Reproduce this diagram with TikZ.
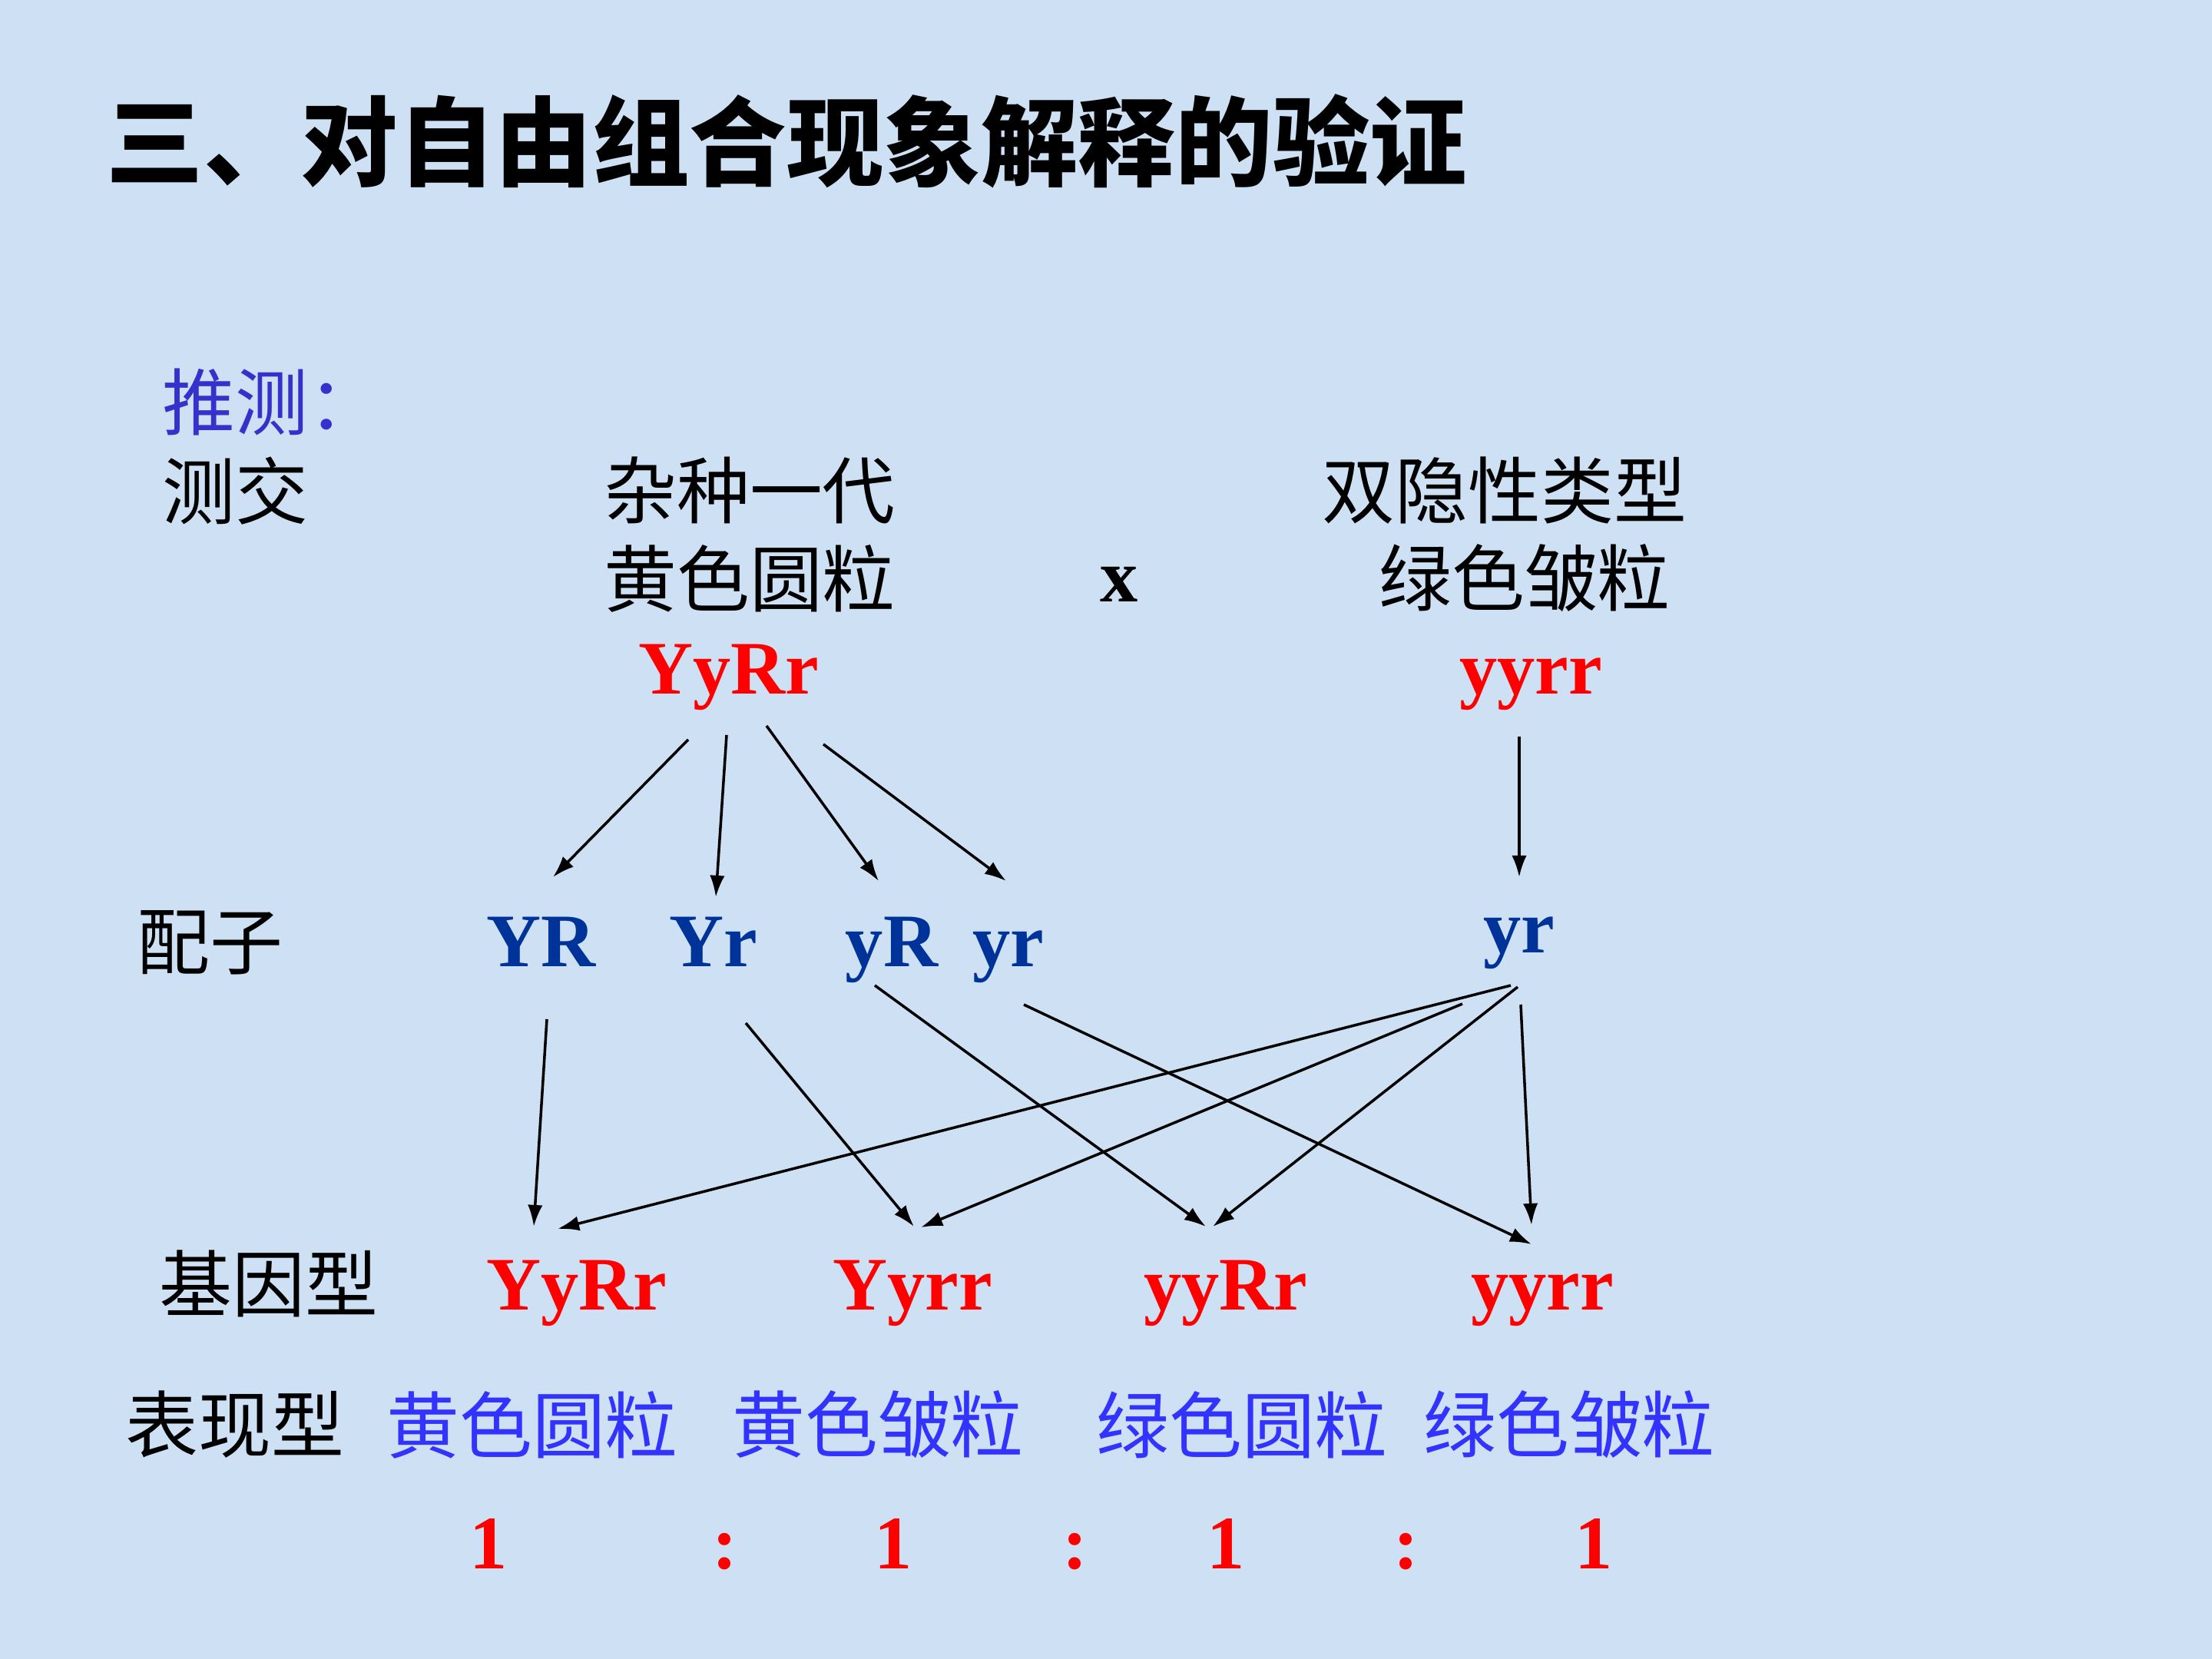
\documentclass[tikz,border=0pt]{standalone}
\usepackage{fontspec}
\setmainfont{Liberation Serif}
\newfontfamily\cjk{Noto Sans CJK SC}
\usetikzlibrary{arrows.meta,positioning,calc}
\definecolor{bgBlue}{RGB}{205,224,244}
\definecolor{geneRed}{RGB}{255,0,0}
\definecolor{gameteBlue}{RGB}{0,51,153}
\definecolor{phenoBlue}{RGB}{51,51,255}
\definecolor{guessBlue}{RGB}{51,51,204}

\begin{document}
\begin{tikzpicture}[
    lbl/.style={inner sep=0pt, font=\cjk\fontsize{27}{30}\selectfont},
    pheno/.style={lbl, text=phenoBlue},
    gene/.style={inner sep=0pt, anchor=base, text=geneRed,
                 font=\bfseries\fontsize{28}{30}\selectfont},
    gam/.style={gene, text=gameteBlue},
    arr/.style={-{Latex[length=8pt,width=5.5pt]}, line width=1pt}
  ]
  \fill[bgBlue] (0,0) rectangle (28.8,-21.6);
  \useasboundingbox (0,0) rectangle (28.8,-21.6);

  \node[anchor=west, inner sep=0pt, font=\cjk\bfseries\fontsize{36}{40}\selectfont]
       (title) at (1.38,-1.84) {三、对自由组合现象解释的验证};

  \node[lbl, anchor=west, text=guessBlue] (guess) at (2.11,-5.23) {推测：};
  \node[lbl, anchor=west] (cross) at (2.11,-6.39) {测交};
  \node[lbl] (hyb) at (9.76,-6.39) {杂种一代};
  \node[lbl] (hybph) at (9.76,-7.53) {黄色圆粒};
  \node[gene, text=black] (times) at (14.57,-7.84) {x};
  \node[lbl] (rec) at (19.59,-6.39) {双隐性类型};
  \node[lbl] (recph) at (19.85,-7.53) {绿色皱粒};
  \node[gene] (p1) at (9.49,-9.04) {YyRr};
  \node[gene] (p2) at (19.93,-9.04) {yyrr};

  \node[lbl] (gamlbl) at (2.73,-12.27) {配子};
  \node[gam] (g1) at (7.05,-12.58) {YR};
  \node[gam] (g2) at (9.29,-12.58) {Yr};
  \node[gam] (g3) at (11.61,-12.58) {yR};
  \node[gam] (g4) at (13.13,-12.58) {yr};
  \node[gam] (g5) at (19.78,-12.40) {yr};

  \node[lbl] (genlbl) at (3.50,-16.71) {基因型};
  \node[gene] (o1) at (7.51,-17.05) {YyRr};
  \node[gene] (o2) at (11.88,-17.05) {Yyrr};
  \node[gene] (o3) at (15.96,-17.05) {yyRr};
  \node[gene] (o4) at (20.08,-17.05) {yyrr};

  \node[lbl] (phlbl) at (3.06,-18.55) {表现型};
  \node[pheno] (f1) at (6.93,-18.55) {黄色圆粒};
  \node[pheno] (f2) at (11.43,-18.55) {黄色皱粒};
  \node[pheno] (f3) at (16.17,-18.55) {绿色圆粒};
  \node[pheno] (f4) at (20.43,-18.55) {绿色皱粒};

  \foreach \x/\t [count=\i] in {6.36/1, 9.44/:, 11.63/1, 14.00/:, 15.96/1, 18.31/:, 20.75/1}
    \node[gene] (r\i) at (\x,-20.42) {\t};

  \draw[arr] ([shift={(-0.53,-0.59)}]p1.base) -- ([shift={(0.15,1.16)}]g1.base);
  \draw[arr] ([shift={(-0.03,-0.53)}]p1.base) -- ([shift={(0.03,0.90)}]g2.base);
  \draw[arr] ([shift={(0.49,-0.41)}]p1.base) -- ([shift={(-0.17,1.11)}]g3.base);
  \draw[arr] ([shift={(1.23,-0.65)}]p1.base) -- ([shift={(-0.03,1.11)}]g4.base);
  \draw[arr] ([shift={(-0.15,-0.55)}]p2.base) -- ([shift={(0,0.98)}]g5.base);

  \draw[arr] ([shift={(0.07,-0.69)}]g1.base) -- ([shift={(-0.56,1.08)}]o1.base);
  \draw[arr] ([shift={(0.42,-0.74)}]g2.base) -- ([shift={(0.02,1.08)}]o2.base);
  \draw[arr] ([shift={(-0.22,-0.25)}]g3.base) -- ([shift={(-0.26,1.08)}]o3.base);
  \draw[arr] ([shift={(0.20,-0.50)}]g4.base) -- ([shift={(-0.14,0.85)}]o4.base);

  \draw[arr] ([shift={(-0.11,-0.43)}]g5.base) -- ([shift={(-0.25,1.05)}]o1.base);
  \draw[arr] ([shift={(-0.74,-0.67)}]g5.base) -- ([shift={(0.11,1.07)}]o2.base);
  \draw[arr] ([shift={(-0.02,-0.45)}]g5.base) -- ([shift={(-0.17,1.08)}]o3.base);
  \draw[arr] ([shift={(0.02,-0.68)}]g5.base) -- ([shift={(-0.14,1.10)}]o4.base);
\end{tikzpicture}
\end{document}
